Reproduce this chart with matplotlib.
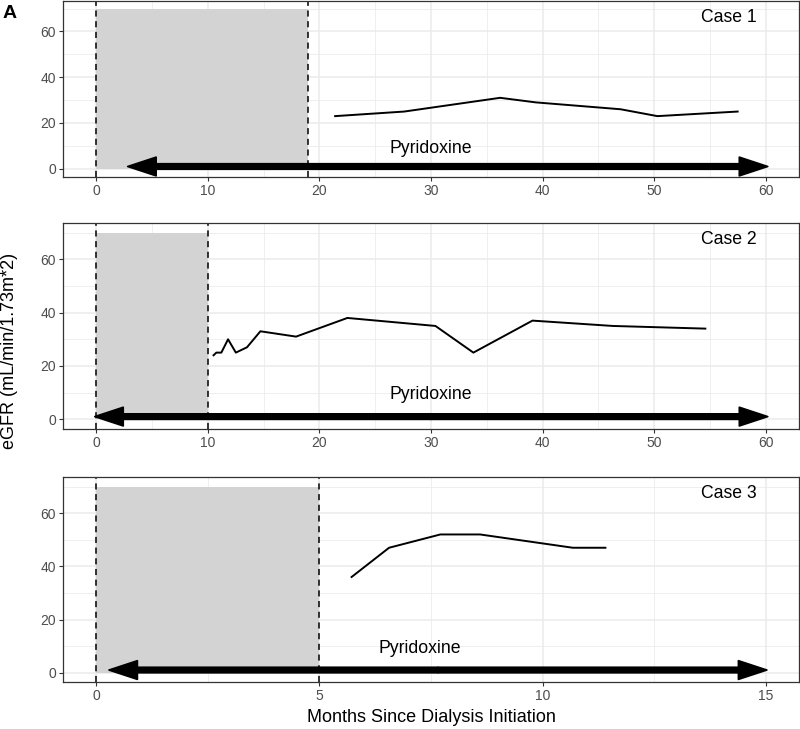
import matplotlib
matplotlib.use("Agg")
import matplotlib.pyplot as plt
from matplotlib.patches import FancyArrowPatch, ArrowStyle, Rectangle

plt.rcParams["font.family"] = ["Liberation Sans", "DejaVu Sans"]

# case 1
case1_x = [21.4, 27.6, 36.2, 39.4, 47.0, 50.3, 57.5]
case1_y = [23, 25, 31, 29, 26, 23, 25]
# case 2
case2_x = [10.5, 10.75, 11.2, 11.8, 12.5, 13.5, 14.7, 17.9, 22.5, 30.4, 33.8, 39.1, 46.3, 54.6]
case2_y = [24, 25, 25, 30, 25, 27, 33, 31, 38, 35, 25, 37, 35, 34]
# case 3
case3_x = [5.72, 6.56, 7.71, 8.6, 10.68, 11.41]
case3_y = [36, 47, 52, 52, 47, 47]

pre_end = [19, 10, 5]          # end of shaded pre-treatment period
arrow_from = [2.8, -0.15, 0.28]
arrow_to = [60.2, 60.2, 15.03]
x_max = [60, 60, 15]
label_x = [30, 30, 7.25]       # "Pyridoxine" position
label_y = [9, 9.3, 9]
case_labels = ["Case 1", "Case 2", "Case 3"]
case_y = [66, 67.5, 67.5]

W, H = 800, 729
# panel boxes in pixels: (left, top, right, bottom)
boxes = [(63, 0.5, 799, 176.8), (63, 223.3, 799, 428.6), (63, 477.3, 799, 682)]

fig = plt.figure(figsize=(W / 100, H / 100), dpi=100)

series = [(case1_x, case1_y), (case2_x, case2_y), (case3_x, case3_y)]
for i, (xs, ys) in enumerate(series):
    l, t, r, b = boxes[i]
    ax = fig.add_axes([l / W, 1 - b / H, (r - l) / W, (b - t) / H])
    xm = x_max[i]
    ax.set_xlim(-0.05 * xm, 1.05 * xm)
    ax.set_ylim(-3.5, 73.5)
    step = 10 if xm == 60 else 5
    ax.set_xticks(range(0, xm + 1, step))
    ax.set_xticks([v + step / 2 for v in range(0, xm, step)], minor=True)
    ax.set_yticks([0, 20, 40, 60])
    ax.set_yticks([10, 30, 50, 70], minor=True)
    ax.grid(which="major", color="#EBEBEB", linewidth=1.1)
    ax.grid(which="minor", color="#EBEBEB", linewidth=0.55)
    ax.set_axisbelow(True)
    ax.tick_params(which="major", length=3, color="#333333", labelsize=10,
                   labelcolor="#4D4D4D", width=0.8, pad=2)
    ax.tick_params(which="minor", length=0)
    for sp in ax.spines.values():
        sp.set_color("#333333")
        sp.set_linewidth(0.9)

    ax.add_patch(Rectangle((0, 0), pre_end[i], 70, facecolor="#D3D3D3",
                           edgecolor="none", zorder=1))
    for xv in (0, pre_end[i]):
        ax.axvline(xv, color="black", linestyle=(0, (4, 3)), linewidth=1.1, zorder=2)

    ax.plot(xs, ys, color="black", linewidth=1.4, zorder=3)

    # double-headed arrow: two filled "simple" arrows from the middle outwards
    mid = (arrow_from[i] + arrow_to[i]) / 2
    style = ArrowStyle("simple", head_length=20.5, head_width=13.5, tail_width=4)
    for end in (arrow_from[i], arrow_to[i]):
        ax.add_patch(FancyArrowPatch((mid, 1), (end, 1), arrowstyle=style,
                                     mutation_scale=1, linewidth=1.2, color="black",
                                     joinstyle="round", shrinkA=0, shrinkB=0, zorder=4))

    ax.text(label_x[i], label_y[i], "Pyridoxine", ha="center", va="center", fontsize=12.7)
    ax.text(0.987 * xm, case_y[i], case_labels[i], ha="right", va="center", fontsize=12.7)

fig.text(3 / W, 1 - 13 / H, "A", fontsize=14, fontweight="bold", ha="left", va="center")
fig.text(431 / W, 1 - 718 / H, "Months Since Dialysis Initiation",
         ha="center", va="center", fontsize=13)
fig.text(10 / W, 1 - 351 / H, "eGFR (mL/min/1.73m*2)", rotation=90,
         ha="center", va="center", fontsize=13)

fig.savefig("out.png", dpi=100)
